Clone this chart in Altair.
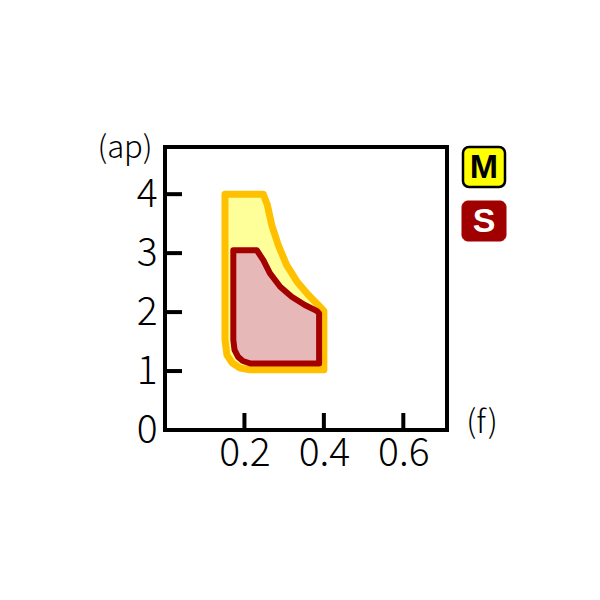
import altair as alt
import pandas as pd

# M region outline (f, ap)
m_f = [0.151, 0.2475, 0.2576, 0.2686, 0.285, 0.306, 0.332, 0.361, 0.390, 0.40, 0.40,
       0.214, 0.189, 0.169, 0.156, 0.151]
m_ap = [4.0, 4.0, 3.82, 3.48, 3.14, 2.80, 2.52, 2.29, 2.09, 2.02, 1.02,
        1.02, 1.05, 1.14, 1.27, 1.53]

# S region outline (f, ap)
s_f = [0.172, 0.231, 0.2475, 0.264, 0.29, 0.319, 0.352, 0.382, 0.388, 0.388,
       0.214, 0.196, 0.184, 0.175, 0.172]
s_ap = [3.05, 3.05, 2.88, 2.66, 2.43, 2.26, 2.12, 2.02, 1.98, 1.13,
        1.13, 1.17, 1.24, 1.36, 1.53]

x_ticks = [0.2, 0.4, 0.6]
y_ticks = [0, 1, 2, 3, 4]
legend_labels = ["M", "S"]
x_title = "(f)"
y_title = "(ap)"

W, H = 282, 283
FONT = "Noto Sans CJK JP"

xs = alt.Scale(domain=[0, 0.71], nice=False, zero=False)
ys = alt.Scale(domain=[0, 4.8], nice=False, zero=False)

m_df = pd.DataFrame({"f": m_f, "ap": m_ap, "i": range(len(m_f))})
s_df = pd.DataFrame({"f": s_f, "ap": s_ap, "i": range(len(s_f))})

x_axis = alt.Axis(values=x_ticks, format=".1f", labelFontSize=39, labelFont=FONT,
                  labelFontWeight=300,
                  labelColor="black", labelPadding=4, domain=False, ticks=False,
                  grid=False, title=None, labelFlush=False)
y_axis = alt.Axis(values=y_ticks, format="d", labelFontSize=39, labelFont=FONT,
                  labelFontWeight=300,
                  labelColor="black", labelPadding=8, domain=False, ticks=False,
                  grid=False, title=None, labelFlush=False)

m_layer = alt.Chart(m_df).mark_line(
    interpolate="linear-closed", fill="#FFFF99", stroke="#FFC000",
    strokeWidth=7, strokeJoin="round", filled=True
).encode(
    x=alt.X("f:Q", scale=xs, axis=x_axis),
    y=alt.Y("ap:Q", scale=ys, axis=y_axis),
    order="i:Q",
)

s_layer = alt.Chart(s_df).mark_line(
    interpolate="linear-closed", fill="#E6B9B8", stroke="#A50000",
    strokeWidth=6, strokeJoin="round", filled=True
).encode(
    x=alt.X("f:Q", scale=xs),
    y=alt.Y("ap:Q", scale=ys),
    order="i:Q",
)

xt_df = pd.DataFrame({"v": x_ticks})
yt_df = pd.DataFrame({"v": [t for t in y_ticks if t > 0]})

x_tick_layer = alt.Chart(xt_df).mark_rule(color="black", strokeWidth=4).encode(
    x=alt.X("v:Q", scale=xs), y=alt.value(H), y2=alt.value(H - 17)
)
y_tick_layer = alt.Chart(yt_df).mark_rule(color="black", strokeWidth=4).encode(
    y=alt.Y("v:Q", scale=ys), x=alt.value(0), x2=alt.value(17)
)

one = pd.DataFrame({"k": [0]})

y_title_layer = alt.Chart(one).mark_text(
    text=y_title, fontSize=31, font=FONT, fontWeight=300, color="black",
    align="center", baseline="middle"
).encode(x=alt.value(-40), y=alt.value(2))

x_title_layer = alt.Chart(one).mark_text(
    text=x_title, fontSize=32, font=FONT, fontWeight=300, color="black",
    align="center", baseline="middle"
).encode(x=alt.value(317), y=alt.value(276))

m_box = alt.Chart(one).mark_rect(
    fill="#FFFF00", stroke="black", strokeWidth=2.5, cornerRadius=6
).encode(x=alt.value(298), x2=alt.value(340), y=alt.value(0), y2=alt.value(40))

s_box = alt.Chart(one).mark_rect(
    fill="#A00000", stroke="#A00000", strokeWidth=1, cornerRadius=6
).encode(x=alt.value(297), x2=alt.value(341), y=alt.value(54), y2=alt.value(94))

m_text = alt.Chart(one).mark_text(
    text=legend_labels[0], fontSize=34, font="Liberation Sans", fontWeight="bold",
    color="black", align="center", baseline="middle"
).encode(x=alt.value(319), y=alt.value(21))

s_text = alt.Chart(one).mark_text(
    text=legend_labels[1], fontSize=34, font="Liberation Sans", fontWeight="bold",
    color="white", align="center", baseline="middle"
).encode(x=alt.value(319), y=alt.value(75))

chart = alt.layer(
    m_layer, s_layer, x_tick_layer, y_tick_layer,
    y_title_layer, x_title_layer, m_box, s_box, m_text, s_text
).properties(
    width=W, height=H,
    padding={"left": 157, "top": 139, "right": 145, "bottom": 162},
    autosize="none",
    background="white",
).configure_view(stroke="black", strokeWidth=4, fill="white")

chart.save("out.html", embed_options={"renderer": "svg", "actions": False})
